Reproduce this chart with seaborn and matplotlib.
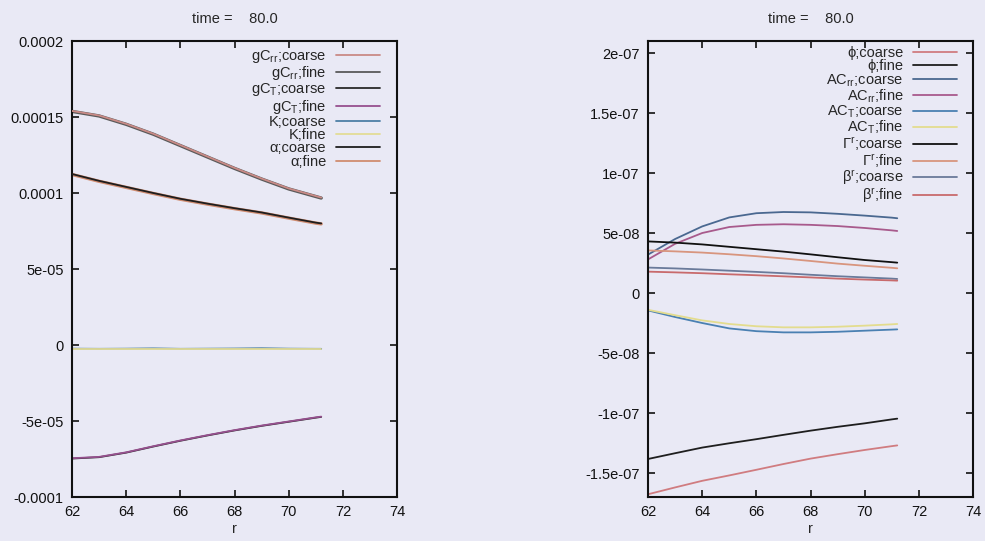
import matplotlib
matplotlib.use("Agg")
import matplotlib.pyplot as plt
import pandas as pd
import seaborn as sns

# radial grid shared by every series
r = [62, 63, 64, 65, 66, 67, 68, 69, 70, 71, 71.2]

# ---- left panel: metric / gauge variables ----
gCrr_coarse = [1.540e-4, 1.510e-4, 1.455e-4, 1.390e-4, 1.315e-4, 1.240e-4, 1.165e-4, 1.095e-4, 1.030e-4, 0.980e-4, 0.970e-4]
gCrr_fine = [1.537e-4, 1.507e-4, 1.452e-4, 1.387e-4, 1.312e-4, 1.237e-4, 1.162e-4, 1.092e-4, 1.027e-4, 0.977e-4, 0.967e-4]
gCT_coarse = [-7.47e-5, -7.38e-5, -7.08e-5, -6.68e-5, -6.30e-5, -5.95e-5, -5.62e-5, -5.32e-5, -5.05e-5, -4.78e-5, -4.73e-5]
gCT_fine = [-7.45e-5, -7.36e-5, -7.06e-5, -6.66e-5, -6.28e-5, -5.93e-5, -5.60e-5, -5.30e-5, -5.03e-5, -4.76e-5, -4.71e-5]
K_coarse = [-2.4e-6, -2.5e-6, -2.4e-6, -2.2e-6, -2.5e-6, -2.4e-6, -2.3e-6, -2.1e-6, -2.4e-6, -2.5e-6, -2.5e-6]
K_fine = [-2.6e-6, -2.6e-6, -2.6e-6, -2.6e-6, -2.6e-6, -2.6e-6, -2.6e-6, -2.6e-6, -2.6e-6, -2.6e-6, -2.6e-6]
alpha_coarse = [1.125e-4, 1.080e-4, 1.040e-4, 1.000e-4, 0.962e-4, 0.930e-4, 0.900e-4, 0.872e-4, 0.838e-4, 0.805e-4, 0.800e-4]
alpha_fine = [1.122e-4, 1.077e-4, 1.037e-4, 0.997e-4, 0.959e-4, 0.927e-4, 0.897e-4, 0.869e-4, 0.835e-4, 0.802e-4, 0.797e-4]

left_labels = [r"gC$_{rr}$;coarse", r"gC$_{rr}$;fine", r"gC$_{T}$;coarse", r"gC$_{T}$;fine",
               "K;coarse", "K;fine", "α;coarse", "α;fine"]
left_values = [gCrr_coarse, gCrr_fine, gCT_coarse, gCT_fine, K_coarse, K_fine, alpha_coarse, alpha_fine]
left_colors = ["#c98a86", "#5a5a5a", "#2a2a2a", "#96508e", "#4d7fa6", "#e3dc96", "#1e1e1e", "#d08c70"]
left_yticks = [-1e-4, -5e-5, 0, 5e-5, 1e-4, 1.5e-4, 2e-4]
left_yticklabels = ["-0.0001", "-5e-05", "0", "5e-05", "0.0001", "0.00015", "0.0002"]

# ---- right panel: scalar field, conformal traceless parts, lapse/shift sources ----
phi_coarse = [-16.77e-8, -16.20e-8, -15.65e-8, -15.20e-8, -14.73e-8, -14.25e-8, -13.80e-8, -13.43e-8, -13.08e-8, -12.76e-8, -12.70e-8]
phi_fine = [-13.83e-8, -13.35e-8, -12.88e-8, -12.52e-8, -12.18e-8, -11.82e-8, -11.47e-8, -11.15e-8, -10.86e-8, -10.53e-8, -10.47e-8]
ACrr_coarse = [3.20e-8, 4.50e-8, 5.55e-8, 6.30e-8, 6.65e-8, 6.75e-8, 6.72e-8, 6.60e-8, 6.45e-8, 6.28e-8, 6.23e-8]
ACrr_fine = [2.80e-8, 4.10e-8, 5.00e-8, 5.50e-8, 5.68e-8, 5.73e-8, 5.68e-8, 5.58e-8, 5.42e-8, 5.22e-8, 5.17e-8]
ACT_coarse = [-1.45e-8, -2.00e-8, -2.50e-8, -2.95e-8, -3.18e-8, -3.28e-8, -3.28e-8, -3.23e-8, -3.14e-8, -3.05e-8, -3.03e-8]
ACT_fine = [-1.40e-8, -1.85e-8, -2.28e-8, -2.58e-8, -2.77e-8, -2.86e-8, -2.86e-8, -2.81e-8, -2.72e-8, -2.61e-8, -2.58e-8]
Gam_coarse = [4.30e-8, 4.20e-8, 4.05e-8, 3.85e-8, 3.65e-8, 3.45e-8, 3.22e-8, 2.98e-8, 2.75e-8, 2.57e-8, 2.53e-8]
Gam_fine = [3.55e-8, 3.47e-8, 3.37e-8, 3.23e-8, 3.07e-8, 2.88e-8, 2.67e-8, 2.45e-8, 2.27e-8, 2.10e-8, 2.06e-8]
beta_coarse = [2.12e-8, 2.05e-8, 1.96e-8, 1.86e-8, 1.76e-8, 1.65e-8, 1.52e-8, 1.40e-8, 1.30e-8, 1.20e-8, 1.17e-8]
beta_fine = [1.78e-8, 1.72e-8, 1.65e-8, 1.56e-8, 1.48e-8, 1.39e-8, 1.30e-8, 1.20e-8, 1.12e-8, 1.05e-8, 1.03e-8]

right_labels = ["ϕ;coarse", "ϕ;fine", r"AC$_{rr}$;coarse", r"AC$_{rr}$;fine", r"AC$_{T}$;coarse",
                r"AC$_{T}$;fine", r"Γ$^{r}$;coarse", r"Γ$^{r}$;fine", r"β$^{r}$;coarse", r"β$^{r}$;fine"]
right_values = [phi_coarse, phi_fine, ACrr_coarse, ACrr_fine, ACT_coarse, ACT_fine,
                Gam_coarse, Gam_fine, beta_coarse, beta_fine]
right_colors = ["#d07c80", "#1e1e1e", "#4a6890", "#a85a8c", "#4a80b2", "#e3dc8e",
                "#101010", "#d8957e", "#6a7a9a", "#c86a6c"]
right_yticks = [-1.5e-7, -1e-7, -5e-8, 0, 5e-8, 1e-7, 1.5e-7, 2e-7]
right_yticklabels = ["-1.5e-07", "-1e-07", "-5e-08", "0", "5e-08", "1e-07", "1.5e-07", "2e-07"]

xticks = [62, 64, 66, 68, 70, 72, 74]
title = "time =    80.0"

BG = "#e9e9f5"
sns.set_theme(style="ticks")
plt.rcParams["font.family"] = ["Liberation Sans Narrow", "Liberation Sans", "DejaVu Sans"]
plt.rcParams["mathtext.default"] = "regular"
plt.rcParams["axes.facecolor"] = BG
plt.rcParams["figure.facecolor"] = BG


def long_frame(labels, values):
    rows = []
    for lab, vals in zip(labels, values):
        for x, y in zip(r, vals):
            rows.append({"r": x, "value": y, "series": lab})
    return pd.DataFrame(rows)


def draw_panel(ax, labels, values, colors, yticks, yticklabels, ylim, anchor, spacing,
               layered=()):
    df = long_frame(labels, values)
    sns.lineplot(data=df, x="r", y="value", hue="series", hue_order=labels,
                 palette=dict(zip(labels, colors)), estimator=None, sort=True,
                 linewidth=1.3, ax=ax, legend=True)
    handles, labs = ax.get_legend_handles_labels()
    # for the named coarse/fine pairs: wide fine line underneath, coarse line over it
    data_lines = ax.lines[:len(labels)]
    for ln, lab in zip(data_lines, labels):
        if any(lab.startswith(p) for p in layered):
            if "coarse" in lab:
                ln.set_zorder(3)
                ln.set_linewidth(1.3)
            else:
                ln.set_zorder(2)
                ln.set_linewidth(2.4)
    ax.set_xlim(62, 74)
    ax.set_ylim(*ylim)
    ax.set_xticks(xticks)
    ax.set_xticklabels([str(t) for t in xticks])
    ax.set_yticks(yticks)
    ax.set_yticklabels(yticklabels)
    ax.tick_params(direction="in", length=5, width=1.2, top=True, right=True,
                   labelsize=10.5, pad=6, colors="#111111")
    for s in ax.spines.values():
        s.set_linewidth(1.5)
        s.set_color("#111111")
    ax.set_xlabel("r", fontsize=10.5, labelpad=2)
    ax.set_ylabel("")
    ax.set_title(title, fontsize=10.5, pad=13)
    ax.legend(handles, labs, loc="upper right", bbox_to_anchor=anchor, frameon=False,
              markerfirst=False, fontsize=10.5, handlelength=3.0, handletextpad=0.7,
              labelspacing=spacing, borderpad=0, borderaxespad=0)


fig = plt.figure(figsize=(9.85, 5.41), dpi=100)
ax1 = fig.add_axes([0.0731, 0.0813, 0.330, 0.8429])
ax2 = fig.add_axes([0.6579, 0.0813, 0.330, 0.8429])

draw_panel(ax1, left_labels, left_values, left_colors, left_yticks, left_yticklabels,
           (-1e-4, 2e-4), (0.948, 0.985), -0.05, layered=("gC$_{rr}", "α"))
draw_panel(ax2, right_labels, right_values, right_colors, right_yticks, right_yticklabels,
           (-1.7e-7, 2.1e-7), (0.951, 0.988), -0.08)

fig.savefig("out.png", dpi=100, facecolor=BG)
